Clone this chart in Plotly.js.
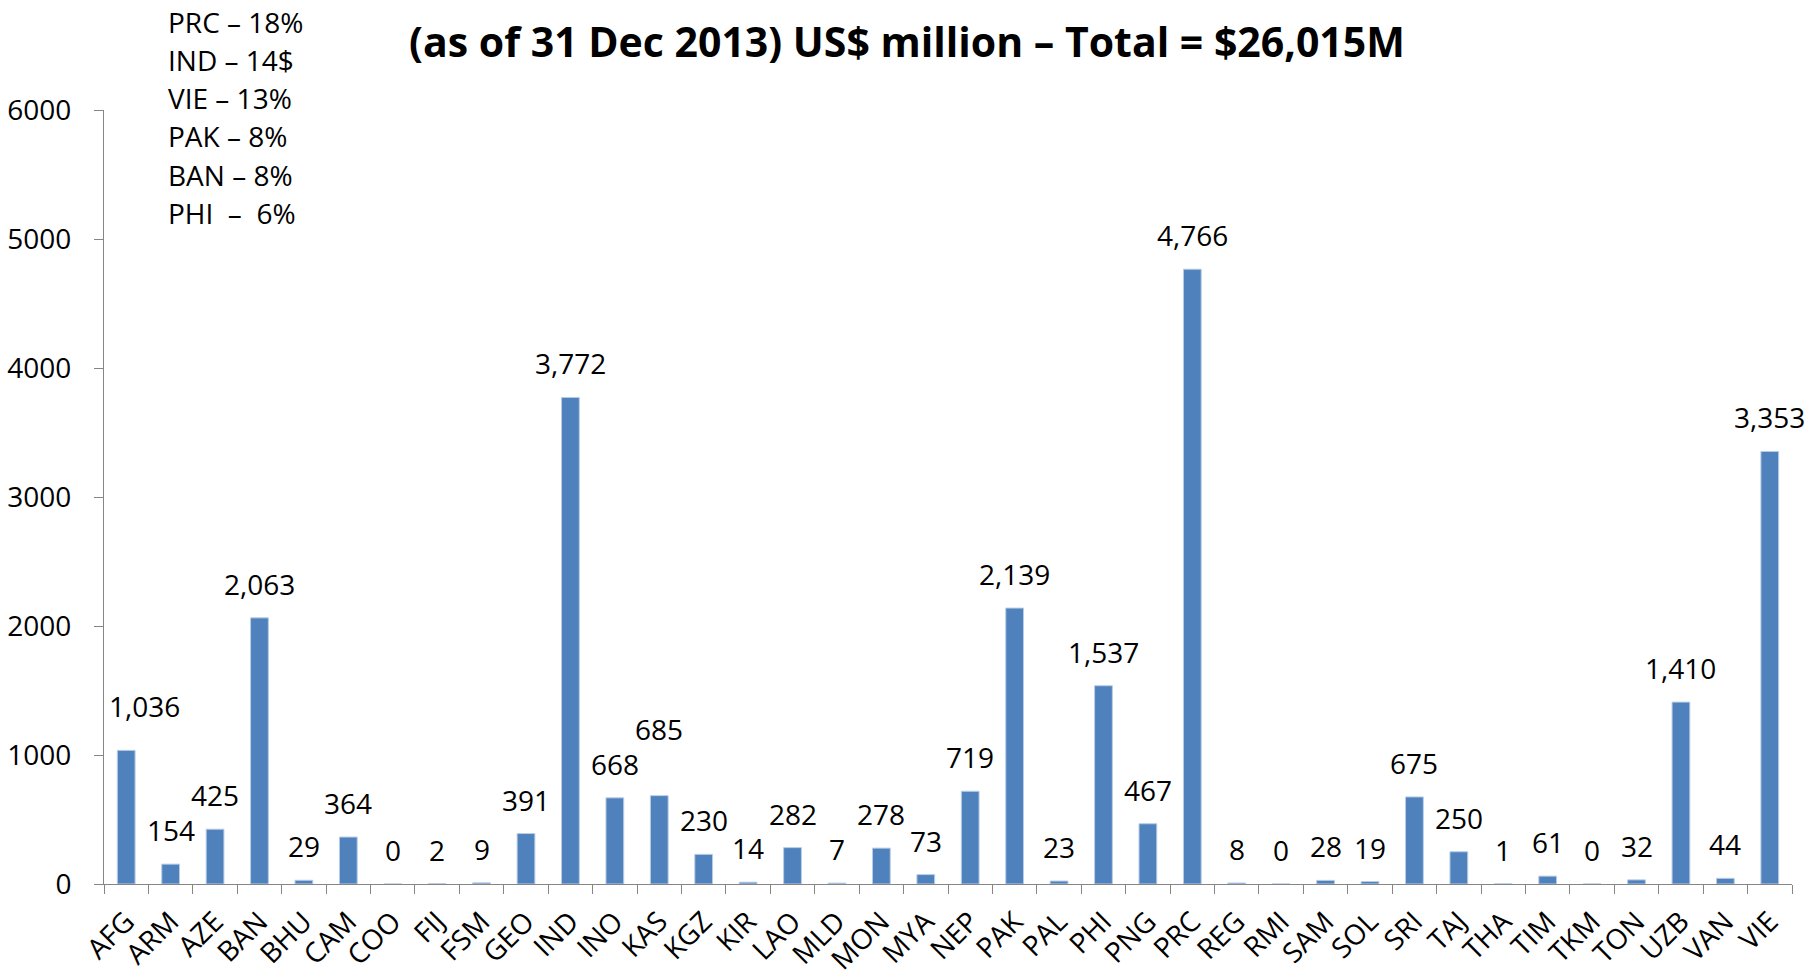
<!DOCTYPE html>
<html>
<head>
<meta charset="utf-8">
<script src="https://cdn.plot.ly/plotly-3.0.1.min.js"></script>
<style>
  html, body { margin: 0; padding: 0; background: #ffffff; }
  #chart { width: 1807px; height: 976px; }
</style>
</head>
<body>
<div id="chart"></div>
<script>
// ---- Data ----
const countries = ["AFG","ARM","AZE","BAN","BHU","CAM","COO","FIJ","FSM","GEO",
  "IND","INO","KAS","KGZ","KIR","LAO","MLD","MON","MYA","NEP",
  "PAK","PAL","PHI","PNG","PRC","REG","RMI","SAM","SOL","SRI",
  "TAJ","THA","TIM","TKM","TON","UZB","VAN","VIE"];
const amounts = [1036,154,425,2063,29,364,0,2,9,391,
  3772,668,685,230,14,282,7,278,73,719,
  2139,23,1537,467,4766,8,0,28,19,675,
  250,1,61,0,32,1410,44,3353];
const yTickValues = [0,1000,2000,3000,4000,5000,6000];
const shareNotes = ["PRC \u2013 18%","IND \u2013 14$","VIE \u2013 13%","PAK \u2013 8%","BAN \u2013 8%","PHI \u00a0\u2013 \u00a06%"];
const titleText = "(as of 31 Dec 2013) US$ million \u2013 Total = $26,015M";

// ---- Styling ----
const FONT = "'Open Sans', 'Noto Sans', 'DejaVu Sans', sans-serif";
const BAR_COLOR = "#4f81bd";
const AXIS_COLOR = "#868686";
const labelNudge = { AFG: {dx: 18, dy: 10}, KAS: {dx: 0, dy: 33} };

const fmt = v => v.toLocaleString('en-US');

const valueLabels = countries.map((c, i) => {
  const n = labelNudge[c] || {dx: 0, dy: 0};
  return {
    x: c, y: amounts[i], xref: 'x', yref: 'y',
    text: fmt(amounts[i]), showarrow: false,
    xanchor: 'center', yanchor: 'middle',
    xshift: n.dx, yshift: 34 + n.dy,
    font: {family: FONT, size: 28, color: '#000'}
  };
});

const noteLabels = shareNotes.map((t, i) => ({
  x: 0, y: 1, xref: 'paper', yref: 'paper',
  text: t, showarrow: false,
  xanchor: 'left', yanchor: 'middle',
  xshift: 62, yshift: 88.5 - i * 38.3,
  font: {family: FONT, size: 28, color: '#000'}
}));

const trace = {
  type: 'bar',
  x: countries,
  y: amounts,
  marker: { color: BAR_COLOR, line: { color: '#b9cde5', width: 1 } },
  hoverinfo: 'x+y'
};

const layout = {
  width: 1807, height: 976, autosize: false,
  margin: { l: 104, r: 15, t: 109.5, b: 92, pad: 0 },
  paper_bgcolor: '#ffffff', plot_bgcolor: '#ffffff',
  showlegend: false,
  bargap: 0.6,
  font: { family: FONT, color: '#000' },
  title: {
    text: '<b>' + titleText + '</b>',
    xref: 'container', x: 907 / 1807, xanchor: 'center',
    yref: 'container', y: 1 - 43 / 976, yanchor: 'middle',
    font: { family: FONT, size: 41, color: '#000' }
  },
  xaxis: {
    type: 'category',
    range: [-0.5, countries.length - 0.5],
    tickson: 'boundaries',
    ticks: 'outside', ticklen: 9, tickwidth: 1, tickcolor: AXIS_COLOR,
    showline: true, linecolor: AXIS_COLOR, linewidth: 1,
    showgrid: false, zeroline: false,
    tickangle: -45,
    ticklabelstandoff: 9,
    tickfont: { family: FONT, size: 28, color: '#000' },
    fixedrange: true
  },
  yaxis: {
    range: [0, 6000],
    tickvals: yTickValues,
    ticktext: yTickValues.map(String),
    ticks: 'outside', ticklen: 9, tickwidth: 1, tickcolor: AXIS_COLOR,
    showline: true, linecolor: AXIS_COLOR, linewidth: 1,
    showgrid: false, zeroline: false,
    ticklabelstandoff: 17,
    tickfont: { family: FONT, size: 28, color: '#000' },
    fixedrange: true
  },
  annotations: valueLabels.concat(noteLabels)
};

Plotly.newPlot('chart', [trace], layout, { displayModeBar: false, staticPlot: true });
</script>
</body>
</html>
